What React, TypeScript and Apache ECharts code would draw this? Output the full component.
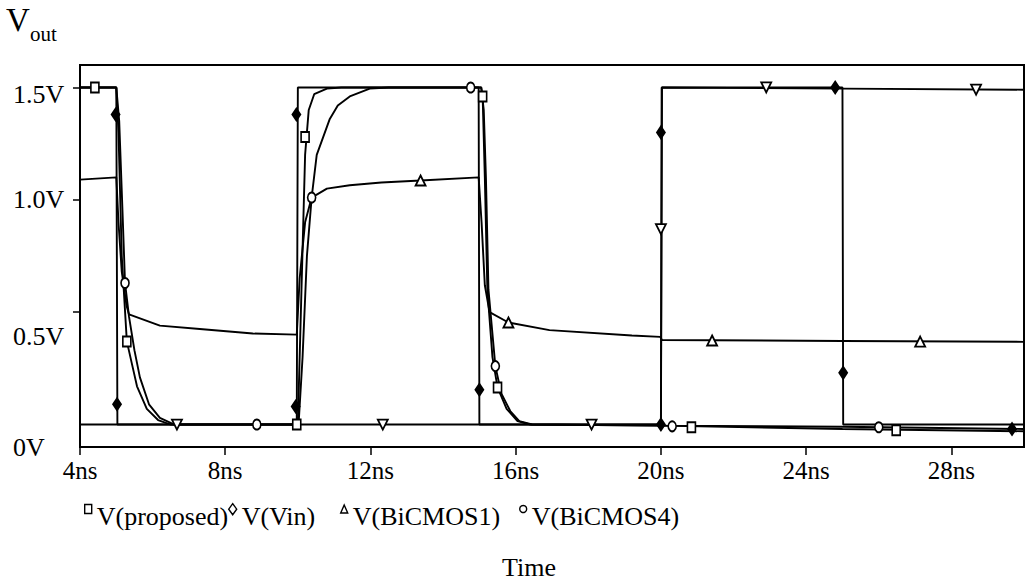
import React, { useEffect, useRef } from 'react';
import * as echarts from 'echarts';

const FONT = '"Liberation Serif", "Times New Roman", serif';

// Axis ticks / labels
const xTickValues = [4, 8, 12, 16, 20, 24, 28];
const yTickValues = [0, 0.5, 1.0, 1.5];
const yTickLabels = ['0V', '0.5V', '1.0V', '1.5V'];
const yTickMarks = [0.5, 1.0, 1.5];

// Legend names
const legendNames = ['V(proposed)', 'V(Vin)', 'V(BiCMOS1)', 'V(BiCMOS4)'];

// Traces: [time (ns), voltage (V)]
const proposedTrace = [
  [4, 1.5], [5.0, 1.5], [5.06, 1.3], [5.15, 0.75], [5.29, 0.37], [5.43, 0.27], [5.57, 0.17],
  [5.84, 0.07], [6.15, 0.02], [6.5, 0], [10.0, 0], [10.1, 0.6], [10.2, 1.2], [10.3, 1.4],
  [10.45, 1.47], [10.8, 1.495], [11.2, 1.5], [15.05, 1.5], [15.09, 1.46], [15.15, 1.1],
  [15.22, 0.6], [15.36, 0.3], [15.5, 0.165], [15.75, 0.07], [16.05, 0.015], [16.4, 0],
  [20, -0.005], [25, -0.02], [30, -0.03],
];
const proposedMarkers = [
  [4.41, 1.5], [5.29, 0.37], [9.97, 0], [10.2, 1.28], [15.09, 1.46], [15.5, 0.165],
  [20.84, -0.012], [26.48, -0.025],
];

const vinTrace = [
  [4, 1.5], [5.0, 1.5], [5.03, 0], [9.97, 0], [10.0, 1.5], [14.98, 1.5], [15.0, 0],
  [20.0, 0], [20.02, 1.5], [25.0, 1.5], [25.02, 0], [30, 0],
];
const vinMarkers = [
  [4.98, 1.38], [5.02, 0.09], [9.96, 1.38], [9.94, 0.08], [15.0, 0.155], [20.0, 1.3],
  [20.0, 0.0], [24.8, 1.5], [25.02, 0.23], [29.67, -0.02],
];

const bicmos1Trace = [
  [4, 1.09], [5.0, 1.1], [5.06, 0.9], [5.15, 0.68], [5.28, 0.53], [5.35, 0.49], [6.2, 0.44],
  [7.3, 0.425], [8.76, 0.405], [9.97, 0.4], [10.05, 0.65], [10.2, 0.9], [10.38, 1.01],
  [10.8, 1.05], [11.43, 1.065], [12.3, 1.077], [13.38, 1.086], [14.98, 1.1], [15.06, 0.9],
  [15.15, 0.62], [15.28, 0.5], [15.8, 0.454], [16.93, 0.42], [19.2, 0.396], [19.98, 0.39],
  [20.03, 0.376], [25, 0.372], [30, 0.368],
];
const bicmos1Markers = [
  [13.38, 1.086], [15.8, 0.454], [21.41, 0.374], [27.14, 0.369],
];

const bicmos4Trace = [
  [4, 1.5], [5.0, 1.5], [5.08, 1.35], [5.17, 0.95], [5.24, 0.63], [5.35, 0.48], [5.5, 0.33],
  [5.65, 0.21], [5.9, 0.09], [6.2, 0.03], [6.6, 0], [10.02, 0], [10.13, 0.3], [10.25, 0.75],
  [10.38, 1.01], [10.52, 1.2], [10.88, 1.36], [11.1, 1.42], [11.43, 1.46], [11.98, 1.495],
  [12.5, 1.5], [15.05, 1.5], [15.12, 1.4], [15.18, 1.1], [15.25, 0.6], [15.44, 0.26],
  [15.6, 0.14], [15.85, 0.06], [16.1, 0.015], [16.45, 0], [20, -0.005], [25, -0.01], [30, -0.02],
];
const bicmos4Markers = [
  [5.24, 0.63], [8.87, 0], [10.38, 1.01], [14.76, 1.5], [15.44, 0.26], [20.31, -0.008],
  [26.0, -0.012],
];

// Fifth trace (triangle-down markers, not in legend)
const fifthTrace = [
  [4, 0], [20.0, 0], [20.03, 1.5], [25, 1.495], [30, 1.49],
];
const fifthMarkers = [
  [6.67, 0], [12.34, 0], [18.09, 0], [20.0, 0.87], [22.9, 1.5], [28.68, 1.49],
];

export default function App() {
  const ref = useRef<HTMLDivElement>(null);

  useEffect(() => {
    if (!ref.current) return;
    const chart = echarts.init(ref.current, undefined, { renderer: 'svg' });

    const lineSeries = (name: string, data: number[][]) => ({
      type: 'line',
      name,
      data,
      symbol: 'none',
      showSymbol: false,
      lineStyle: { color: '#000', width: 1.9 },
      z: 2,
    });
    const markerSeries = (
      name: string,
      data: number[][],
      symbol: string,
      size: number[],
      fill: string,
      rotate = 0
    ) => ({
      type: 'scatter',
      name,
      data,
      symbol,
      symbolSize: size,
      symbolRotate: rotate,
      itemStyle: { color: fill, borderColor: '#000', borderWidth: 1.8, opacity: 1 },
      z: 3,
    });

    const icons = ['rect', 'diamond', 'triangle', 'circle'];
    const legendLefts = [84, 228, 340, 519];
    const legendIconSizes = [[7, 9], [8, 11], [7, 8], [7, 9]];

    const yStyles: Record<string, any> = {};
    const yShift = [46, 48, 0, 14];
    yTickLabels.forEach((_, i) => {
      yStyles['s' + i] = {
        fontSize: 26,
        fontFamily: FONT,
        color: '#000',
        padding: [yShift[i], 0, 0, 0],
      };
    });

    chart.setOption({
      animation: false,
      backgroundColor: '#fff',
      grid: {
        show: true,
        left: 80,
        top: 65,
        width: 944,
        height: 382,
        borderColor: '#000',
        borderWidth: 2,
      },
      title: {
        text: 'Time',
        left: 497,
        top: 549,
        textStyle: { fontSize: 26, fontFamily: FONT, color: '#000', fontWeight: 'normal' },
      },
      legend: legendNames.map((name, i) => ({
        data: [{
          name,
          icon: icons[i],
          itemStyle: { color: '#fff', borderColor: '#000', borderWidth: 1.4 },
        }],
        left: legendLefts[i],
        top: 503,
        itemWidth: legendIconSizes[i][0],
        itemHeight: legendIconSizes[i][1],
        selectedMode: false,
        padding: 0,
        formatter: '{a|{name}}',
        textStyle: {
          fontSize: 26,
          fontFamily: FONT,
          color: '#000',
          rich: {
            a: { fontSize: 26, fontFamily: FONT, color: '#000', padding: [14, 0, 0, 0] },
          },
        },
      })),
      xAxis: {
        type: 'value',
        min: 4,
        max: 30,
        interval: 4,
        axisLine: { show: true, onZero: false, lineStyle: { color: '#000', width: 2 } },
        axisTick: {
          show: true,
          inside: false,
          length: 8,
          customValues: xTickValues,
          lineStyle: { color: '#000', width: 1.5 },
        },
        axisLabel: {
          customValues: xTickValues,
          formatter: (v: number) => `${v}ns`,
          fontSize: 25,
          fontFamily: FONT,
          color: '#000',
          margin: 11,
        },
        splitLine: { show: false },
      },
      yAxis: {
        type: 'value',
        min: -0.1,
        max: 1.6,
        axisLine: { show: true, onZero: false, lineStyle: { color: '#000', width: 2 } },
        axisTick: {
          show: true,
          inside: false,
          length: 7,
          customValues: yTickMarks,
          lineStyle: { color: '#000', width: 1.5 },
        },
        axisLabel: {
          customValues: yTickValues,
          align: 'left',
          margin: 67,
          formatter: (v: number) => {
            const i = yTickValues.findIndex((t) => Math.abs(t - v) < 1e-6);
            return i < 0 ? '' : `{s${i}|${yTickLabels[i]}}`;
          },
          rich: yStyles,
          fontSize: 26,
          fontFamily: FONT,
          color: '#000',
        },
        splitLine: { show: false },
      },
      graphic: [
        {
          type: 'text',
          left: 6,
          top: 3,
          style: { text: 'V', fontSize: 33, fontFamily: FONT, fill: '#000' },
        },
        {
          type: 'text',
          left: 30,
          top: 23,
          style: { text: 'out', fontSize: 21, fontFamily: FONT, fill: '#000' },
        },
      ],
      series: [
        lineSeries('V(proposed) trace', proposedTrace),
        lineSeries('V(Vin) trace', vinTrace),
        lineSeries('V(BiCMOS1) trace', bicmos1Trace),
        lineSeries('V(BiCMOS4) trace', bicmos4Trace),
        lineSeries('fifth trace', fifthTrace),
        markerSeries('V(proposed)', proposedMarkers, 'rect', [8, 10], '#fff'),
        markerSeries('V(Vin)', vinMarkers, 'diamond', [8, 12], '#000'),
        markerSeries('V(BiCMOS1)', bicmos1Markers, 'triangle', [10, 10], '#fff'),
        markerSeries('V(BiCMOS4)', bicmos4Markers, 'circle', [8, 10], '#fff'),
        markerSeries('fifth', fifthMarkers, 'triangle', [10, 10], '#fff', 180),
      ],
    });

    return () => chart.dispose();
  }, []);

  return (
    <div
      ref={ref}
      style={{ position: 'fixed', left: 0, top: 0, width: 1025, height: 582, background: '#fff' }}
    />
  );
}
